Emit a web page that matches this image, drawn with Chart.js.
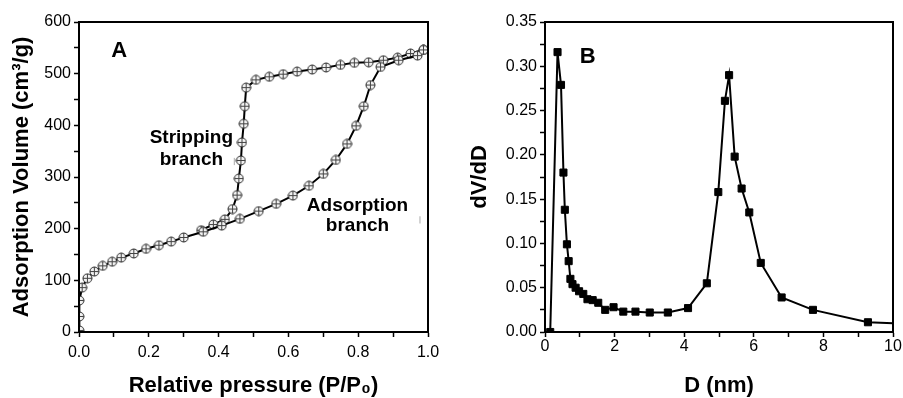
<!DOCTYPE html>
<html>
<head>
<meta charset="utf-8">
<script src="https://cdn.jsdelivr.net/npm/chart.js@4/dist/chart.umd.min.js"></script>
<style>
  html, body { margin: 0; padding: 0; background: #fff; }
  #wrap { position: relative; width: 903px; height: 398px; overflow: hidden; background: #fff; }
  canvas { position: absolute; top: 0; }
  #cA { left: 0; }
  #cB { left: 450px; }
</style>
</head>
<body>
<div id="wrap">
  <canvas id="cA" width="450" height="398"></canvas>
  <canvas id="cB" width="453" height="398"></canvas>
</div>
<script>
// ---------- Data ----------
// Panel A: N2 isotherm, relative pressure P/P0 vs adsorbed volume (cm3/g)
const adsorptionP = [0.001, 0.001, 0.001, 0.009, 0.024, 0.044, 0.068, 0.095, 0.121, 0.157, 0.192, 0.229, 0.264, 0.300, 0.356, 0.409, 0.461, 0.515, 0.565, 0.613, 0.659, 0.700, 0.736, 0.768, 0.794, 0.816, 0.835, 0.864, 0.916, 0.970, 0.987];
const adsorptionV = [3, 30, 61, 86, 104, 117, 128, 136, 144, 152, 161, 168, 175, 183, 194, 206, 219, 234, 248, 264, 283, 306, 333, 364, 399, 437, 478, 513, 526, 535, 546];
const strippingP = [0.987, 0.950, 0.913, 0.872, 0.830, 0.789, 0.749, 0.708, 0.668, 0.625, 0.585, 0.545, 0.507, 0.479, 0.475, 0.472, 0.467, 0.464, 0.458, 0.453, 0.440, 0.418, 0.385, 0.350];
const strippingV = [546, 539, 531, 526, 522, 521, 517, 512, 508, 504, 499, 494, 488, 473, 437, 403, 367, 332, 297, 265, 238, 218, 208, 197];
// Panel B: pore size distribution, D (nm) vs dV/dD
const poreD  = [0.15, 0.36, 0.46, 0.53, 0.57, 0.63, 0.68, 0.73, 0.79, 0.88, 0.98, 1.10, 1.22, 1.37, 1.53, 1.73, 1.97, 2.25, 2.60, 3.01, 3.53, 4.11, 4.65, 4.98, 5.17, 5.29, 5.45, 5.65, 5.87, 6.20, 6.80, 7.70, 9.28, 10.0];
const poreDV = [0.000, 0.316, 0.279, 0.180, 0.138, 0.099, 0.080, 0.060, 0.054, 0.050, 0.046, 0.043, 0.037, 0.036, 0.033, 0.025, 0.028, 0.023, 0.023, 0.022, 0.022, 0.027, 0.055, 0.158, 0.261, 0.290, 0.198, 0.162, 0.135, 0.078, 0.039, 0.025, 0.011, 0.010];
// Tick label sets (labelled major ticks; minor ticks between them are unlabelled)
const ticksAx = ['0.0', '0.2', '0.4', '0.6', '0.8', '1.0'];
const ticksAy = ['0', '100', '200', '300', '400', '500', '600'];
const ticksBx = ['0', '2', '4', '6', '8', '10'];
const ticksBy = ['0.00', '0.05', '0.10', '0.15', '0.20', '0.25', '0.30', '0.35'];

// ---------- Helpers ----------
const FONT = '"Liberation Sans", Arial, Helvetica, sans-serif';
const zip = (xs, ys) => xs.map((x, i) => ({ x: x, y: ys[i] }));

function makeMarker() {
  const c = document.createElement('canvas');
  c.width = 11; c.height = 11;
  const g = c.getContext('2d');
  g.beginPath(); g.arc(5.5, 5.5, 4.5, 0, Math.PI * 2);
  g.fillStyle = '#f2f2f2'; g.fill();
  g.lineWidth = 1; g.strokeStyle = '#222'; g.stroke();
  g.beginPath();
  g.moveTo(1, 5.5); g.lineTo(10, 5.5);
  g.moveTo(5.5, 1); g.lineTo(5.5, 10);
  g.strokeStyle = '#444'; g.lineWidth = 1; g.stroke();
  return c;
}
const marker = makeMarker();

// returns the label from `list` that matches the tick value, or '' for minor ticks
function labelFrom(list) {
  return function (value) {
    const hit = list.find(s => Math.abs(parseFloat(s) - value) < 1e-6);
    return hit === undefined ? '' : hit;
  };
}

const framePlugin = {
  id: 'frame',
  afterDraw(chart, args, opts) {
    const { ctx, chartArea: a, scales } = chart;
    ctx.save();
    ctx.strokeStyle = '#000';
    ctx.lineWidth = 2;
    ctx.strokeRect(a.left, a.top, a.right - a.left, a.bottom - a.top);
    (opts.texts || []).forEach(t => {
      ctx.font = t.font;
      ctx.fillStyle = '#000';
      ctx.textAlign = 'center';
      ctx.textBaseline = 'alphabetic';
      ctx.fillText(t.text, scales.x.getPixelForValue(t.x), scales.y.getPixelForValue(t.y));
    });
    (opts.dashes || []).forEach(d => {
      ctx.beginPath();
      ctx.strokeStyle = '#aaa';
      ctx.lineWidth = 1;
      const px = scales.x.getPixelForValue(d.x);
      ctx.moveTo(px, scales.y.getPixelForValue(d.y0));
      ctx.lineTo(px, scales.y.getPixelForValue(d.y1));
      ctx.stroke();
    });
    ctx.restore();
  }
};

function axis(min, max, step, labels, opt) {
  return {
    type: 'linear', min: min, max: max,
    afterFit: opt.fit,
    border: { display: true, color: '#000', width: 2 },
    grid: { display: true, drawOnChartArea: false, drawTicks: true, tickLength: 5, tickWidth: 1.5, tickColor: '#000' },
    ticks: {
      stepSize: step, autoSkip: false, maxRotation: 0, padding: opt.pad,
      color: '#000', font: { family: FONT, size: 16 },
      callback: labelFrom(labels)
    },
    title: { display: true, text: opt.title, color: '#000',
      font: { family: FONT, size: 22, weight: 'bold', lineHeight: 1.0 },
      padding: opt.titlePad }
  };
}

// ---------- Panel A ----------
new Chart(document.getElementById('cA'), {
  type: 'scatter',
  data: {
    datasets: [
      { label: 'Adsorption branch', data: zip(adsorptionP, adsorptionV), showLine: true,
        borderColor: '#000', borderWidth: 2, pointStyle: marker, pointRadius: 5,
        clip: { left: 0, bottom: 0, top: false, right: false } },
      { label: 'Stripping branch', data: zip(strippingP, strippingV), showLine: true,
        borderColor: '#000', borderWidth: 2, pointStyle: marker, pointRadius: 5,
        clip: { left: 0, bottom: 0, top: false, right: false } }
    ]
  },
  options: {
    responsive: false, animation: false, devicePixelRatio: 1,
    layout: { padding: { left: 0, right: 22, top: 22, bottom: 0 } },
    plugins: {
      legend: { display: false }, tooltip: { enabled: false },
      frame: {
        texts: [
          { text: 'A', x: 0.115, y: 532, font: 'bold 22px ' + FONT },
          { text: 'Stripping', x: 0.322, y: 366, font: 'bold 19px ' + FONT },
          { text: 'branch', x: 0.322, y: 323, font: 'bold 19px ' + FONT },
          { text: 'Adsorption', x: 0.798, y: 234, font: 'bold 19px ' + FONT },
          { text: 'branch', x: 0.798, y: 195, font: 'bold 19px ' + FONT }
        ],
        dashes: [ { x: 0.445, y0: 323, y1: 337 }, { x: 0.977, y0: 210, y1: 224 } ]
      }
    },
    scales: {
      x: axis(0, 1, 0.1, ticksAx, { fit: s => { s.height = 66; }, pad: 6,
        title: 'Relative pressure (P/P\u2080)', titlePad: { top: 0, bottom: 1 } }),
      y: axis(0, 600, 50, ticksAy, { fit: s => { s.width = 79; }, pad: 3,
        title: 'Adsorption Volume (cm\u00b3/g)', titlePad: { top: 11, bottom: 0 } })
    }
  },
  plugins: [framePlugin]
});

// ---------- Panel B ----------
new Chart(document.getElementById('cB'), {
  type: 'scatter',
  data: {
    datasets: [
      { label: 'dV/dD', data: zip(poreD, poreDV), showLine: true,
        borderColor: '#000', borderWidth: 2, backgroundColor: '#000',
        pointStyle: 'rect', pointBorderColor: '#000', pointBorderWidth: 1,
        pointRadius: ctx => (ctx.raw && ctx.raw.x >= 10 ? 0 : 5),
        clip: { left: 0, bottom: 0, top: false, right: 0 } }
    ]
  },
  options: {
    responsive: false, animation: false, devicePixelRatio: 1,
    layout: { padding: { left: 0, right: 10, top: 22, bottom: 0 } },
    plugins: {
      legend: { display: false }, tooltip: { enabled: false },
      frame: { texts: [ { text: 'B', x: 1.23, y: 0.304, font: 'bold 22px ' + FONT } ] }
    },
    scales: {
      x: axis(0, 10, 1, ticksBx, { fit: s => { s.height = 66; }, pad: 0,
        title: 'D (nm)', titlePad: { top: 0, bottom: 1 } }),
      y: axis(0, 0.35, 0.025, ticksBy, { fit: s => { s.width = 95; }, pad: 3,
        title: 'dV/dD', titlePad: { top: 19, bottom: 0 } })
    }
  },
  plugins: [framePlugin]
});
</script>
</body>
</html>
